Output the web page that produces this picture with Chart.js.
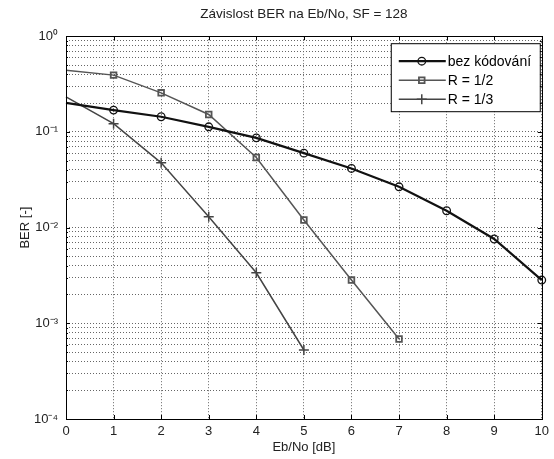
<!DOCTYPE html>
<html>
<head>
<meta charset="utf-8">
<script src="https://cdn.jsdelivr.net/npm/chart.js@4"></script>
<style>
  body { margin: 0; background: #fff; }
  canvas { display: block; }
</style>
</head>
<body>
<canvas id="berChart" width="554" height="459"></canvas>
<script>
// data
const ebno = [0, 1, 2, 3, 4, 5, 6, 7, 8, 9, 10];
const berUncoded = [0.201, 0.169, 0.144, 0.113, 0.0867, 0.060, 0.0415, 0.0267, 0.015, 0.0076, 0.00283];
const berHalf = [0.44, 0.392, 0.256, 0.152, 0.054, 0.012, 0.00283, 0.000685];
const berThird = [0.232, 0.122, 0.0475, 0.013, 0.00337, 0.000526];
const seriesNames = ["bez kódování", "R = 1/2", "R = 1/3"];
const decades = [-4, -3, -2, -1, 0];

const sup = { "-": "⁻", "0": "⁰", "1": "¹", "2": "²", "3": "³", "4": "⁴" };
const toPoints = (vals) => vals.map((v, i) => ({ x: ebno[i], y: v }));
// the first point (at the left edge) has no marker in the figure
const markerSize = (r) => (c) => (c.dataIndex === 0 ? 0 : r);

// log ticks: every 1..9 x 10^k
const logTicks = [];
decades.forEach(d => {
  if (d === 0) { logTicks.push(1); return; }
  for (let m = 1; m <= 9; m++) logTicks.push(+(m * Math.pow(10, d)).toPrecision(3));
});

// box round the axes, inner tick marks, legend in the upper right
const axesBox = {
  id: "axesBox",
  afterDatasetsDraw(chart) {
    const { ctx, chartArea: a, scales } = chart;
    ctx.save();
    ctx.strokeStyle = "#000";
    ctx.lineWidth = 1;
    ctx.beginPath();
    ebno.forEach(v => {
      const px = Math.round(scales.x.getPixelForValue(v)) + 0.5;
      ctx.moveTo(px, a.bottom); ctx.lineTo(px, a.bottom - 4);
      ctx.moveTo(px, a.top); ctx.lineTo(px, a.top + 4);
    });
    logTicks.forEach(v => {
      const py = Math.round(scales.y.getPixelForValue(v)) + 0.5;
      const len = Number.isInteger(Math.log10(v)) ? 4 : 2;
      ctx.moveTo(a.left, py); ctx.lineTo(a.left + len, py);
      ctx.moveTo(a.right, py); ctx.lineTo(a.right - len, py);
    });
    ctx.stroke();
    ctx.strokeRect(Math.round(a.left) + 0.5, Math.round(a.top) + 0.5,
      Math.round(a.right - a.left), Math.round(a.bottom - a.top));

    // legend
    const lx = a.right - 151, ly = a.top + 7, lw = 149, lh = 68;
    ctx.fillStyle = "#fff";
    ctx.fillRect(lx, ly, lw, lh);
    ctx.strokeRect(lx + 0.5, ly + 0.5, lw, lh);
    ctx.font = "14px 'Liberation Sans', Arial, sans-serif";
    ctx.textBaseline = "middle";
    chart.data.datasets.forEach((ds, i) => {
      const y = ly + 18 + i * 19;
      ctx.strokeStyle = ds.borderColor;
      ctx.lineWidth = ds.borderWidth;
      ctx.beginPath();
      ctx.moveTo(lx + 8, y); ctx.lineTo(lx + 55, y);
      ctx.stroke();
      ctx.fillStyle = "rgba(0,0,0,0)";
      ctx.lineWidth = ds.pointBorderWidth;
      Chart.helpers.drawPoint(ctx, { pointStyle: ds.pointStyle, radius: ds.markerRadius, borderWidth: ds.pointBorderWidth, rotation: 0 }, lx + 31, y);
      ctx.fillStyle = "#000";
      ctx.fillText(ds.label, lx + 57, y + 1);
    });
    ctx.restore();
  }
};

const ctx = document.getElementById("berChart").getContext("2d");
const berChart = new Chart(ctx, {
  type: "line",
  data: {
    datasets: [
      {
        label: seriesNames[0],
        data: toPoints(berUncoded),
        borderColor: "#111",
        borderWidth: 2.2,
        pointStyle: "circle",
        markerRadius: 3.8,
        pointRadius: markerSize(3.8),
        pointBorderWidth: 1.3,
        pointBackgroundColor: "rgba(0,0,0,0)",
        pointBorderColor: "#111",
        clip: false,
      },
      {
        label: seriesNames[1],
        data: toPoints(berHalf),
        borderColor: "#555",
        borderWidth: 1.5,
        pointStyle: "rect",
        markerRadius: 4,
        pointRadius: markerSize(4),
        pointBorderWidth: 1.8,
        pointBackgroundColor: "rgba(0,0,0,0)",
        pointBorderColor: "#555",
        clip: false,
      },
      {
        label: seriesNames[2],
        data: toPoints(berThird),
        borderColor: "#444",
        borderWidth: 1.5,
        pointStyle: "cross",
        markerRadius: 5,
        pointRadius: markerSize(5),
        pointBorderWidth: 1.5,
        pointBackgroundColor: "rgba(0,0,0,0)",
        pointBorderColor: "#444",
        clip: false,
      },
    ],
  },
  options: {
    responsive: false,
    animation: false,
    layout: { padding: { left: 0, right: 11, top: 0, bottom: 0 } },
    plugins: {
      legend: { display: false },
      tooltip: { enabled: false },
      title: {
        display: true,
        fullSize: false,
        text: "Závislost BER na Eb/No, SF = 128",
        color: "#222",
        font: { family: "'Liberation Sans', Arial, sans-serif", size: 13.5, weight: "normal" },
        padding: { top: 6, bottom: 14 },
      },
    },
    scales: {
      x: {
        type: "linear",
        min: 0,
        max: 10,
        afterFit: (s) => { s.height = 40; },
        afterBuildTicks: (s) => { s.ticks = ebno.map(v => ({ value: v })); },
        ticks: {
          autoSkip: false,
          maxRotation: 0,
          padding: 5,
          color: "#222",
          font: { family: "'Liberation Sans', Arial, sans-serif", size: 13 },
        },
        grid: { color: "#666", lineWidth: 1, drawTicks: false },
        border: { display: false, dash: [1, 2] },
        title: {
          display: true,
          text: "Eb/No [dB]",
          color: "#222",
          font: { family: "'Liberation Sans', Arial, sans-serif", size: 13 },
          padding: { top: 0, bottom: 4 },
        },
      },
      y: {
        type: "logarithmic",
        min: 1e-4,
        max: 1,
        afterFit: (s) => { s.width = 66; },
        afterBuildTicks: (s) => { s.ticks = logTicks.map(v => ({ value: v })); },
        ticks: {
          autoSkip: false,
          padding: 8,
          color: "#222",
          font: { family: "'Liberation Sans', Arial, sans-serif", size: 13 },
          callback: (v) => {
            const e = Math.log10(v);
            if (Math.abs(e - Math.round(e)) > 1e-6) return "";
            return "10" + String(Math.round(e)).split("").map(c => sup[c]).join("");
          },
        },
        grid: { color: "#666", lineWidth: 1, drawTicks: false },
        border: { display: false, dash: [1, 2] },
        title: {
          display: true,
          text: "BER [-]",
          color: "#222",
          font: { family: "'Liberation Sans', Arial, sans-serif", size: 13 },
          padding: { top: 18, bottom: 0 },
        },
      },
    },
  },
  plugins: [axesBox],
});
</script>
</body>
</html>
